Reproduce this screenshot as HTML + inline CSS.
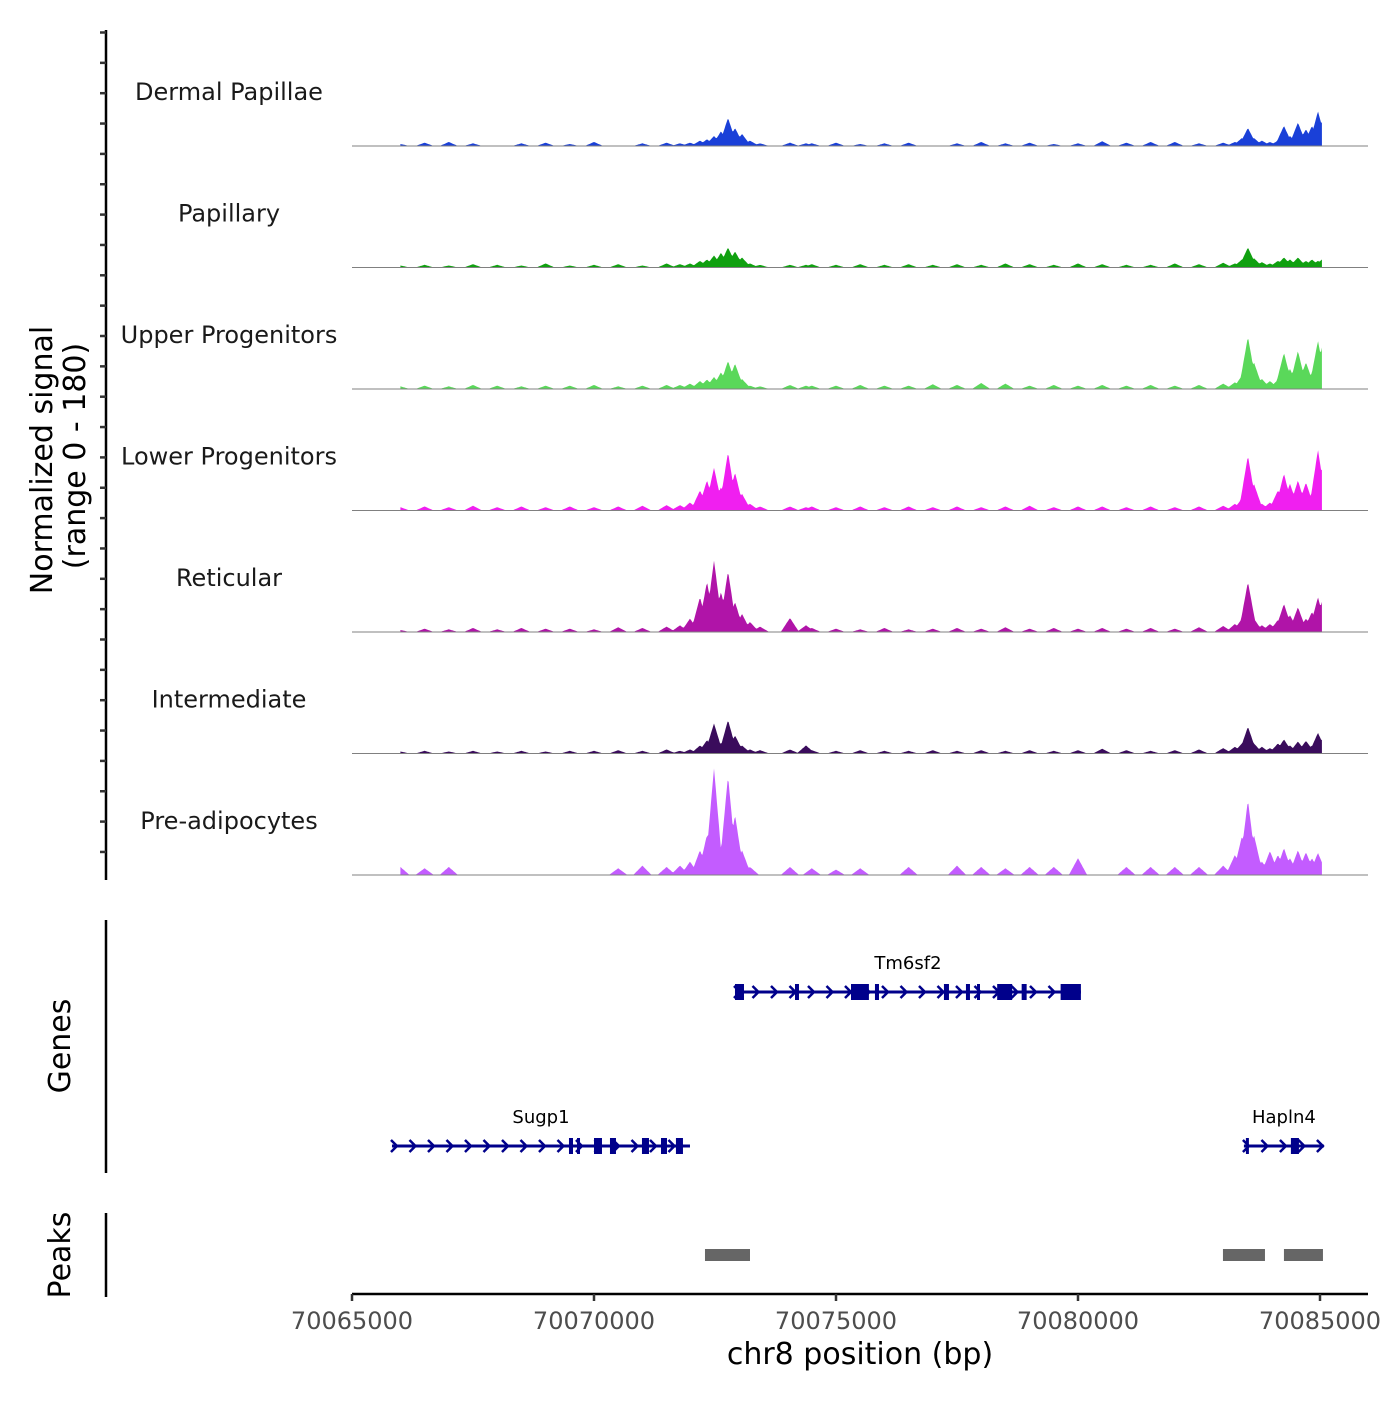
<!DOCTYPE html>
<html><head><meta charset="utf-8">
<style>
body{margin:0;background:#fff;}
svg text{font-family:"DejaVu Sans","Liberation Sans",sans-serif;}
</style></head>
<body>
<svg id="chart" width="1400" height="1400" viewBox="0 0 1400 1400" xmlns="http://www.w3.org/2000/svg">
<rect width="1400" height="1400" fill="#fff"/>
<g id="tracks"></g>
<g id="genes"></g>
<g id="peaks"></g>
<g id="axes"></g>
<text transform="translate(52,460) rotate(-90)" text-anchor="middle" font-size="30" fill="#000">Normalized signal</text>
<text transform="translate(85,456) rotate(-90)" text-anchor="middle" font-size="30" fill="#000">(range 0 - 180)</text>
<text transform="translate(70,1046) rotate(-90)" text-anchor="middle" font-size="30" fill="#000">Genes</text>
<text transform="translate(70,1255) rotate(-90)" text-anchor="middle" font-size="30" fill="#000">Peaks</text>
<text x="860" y="1364" text-anchor="middle" font-size="30" fill="#000">chr8 position (bp)</text>
</svg>
<script>
const NS = "http://www.w3.org/2000/svg";
// ---- data ----
const trackNames = ["Dermal Papillae","Papillary","Upper Progenitors","Lower Progenitors","Reticular","Intermediate","Pre-adipocytes"];
const trackColors = ["#1a40d8","#10a010","#5ad85a","#f01ff0","#b014a8","#3a0c5c","#c35cff"];
const noisePos = [66000,66500,67000,67500,68000,68500,69000,69500,70000,70500,71000,71500,74500,75000,75500,76000,76500,77000,77500,78000,78500,79000,79500,80000,80500,81000,81500,82000,82500,83000];
const noiseDermal = [3,5,6,4,0,4,5,3,6,0,4,5,4,5,3,4,5,0,4,6,4,5,3,4,7,5,6,6,4,5];
const noisePapillary = [3,4,3,5,4,3,6,3,4,5,3,6,5,4,5,4,5,4,5,4,6,5,4,6,5,4,4,6,5,7];
const noiseUpper = [4,5,4,6,5,4,5,5,6,4,5,6,5,5,6,5,5,7,6,9,8,5,6,5,6,5,6,5,6,8];
const noiseLower = [5,6,5,7,5,6,5,6,5,6,7,8,6,5,6,5,6,5,6,5,6,7,5,6,6,5,6,5,6,7];
const noiseReticular = [3,5,4,6,4,6,5,5,4,7,6,8,6,5,4,6,4,5,6,5,7,5,6,5,6,5,6,5,7,9];
const noiseIntermediate = [3,4,3,4,3,4,3,4,4,5,4,6,5,4,5,4,4,5,4,5,4,5,4,5,7,5,4,5,6,8];
const noisePreadipo = [12,10,12,0,0,0,0,0,0,10,14,12,10,8,10,0,12,0,14,12,10,12,12,25,0,12,12,12,12,14];
const noiseArrays = [noiseDermal,noisePapillary,noiseUpper,noiseLower,noiseReticular,noiseIntermediate,noisePreadipo];
const peakPos = [71776,71983,72190,72334,72479,72624,72769,72913,73058,73223,73430,74049,74380,83243,83387,83511,83635,83800,83966,84131,84255,84379,84544,84710,84834,84958,85040];
const peakDermal = [4,5,8,10,15,22,42,27,18,8,4,5,4,6,12,27,12,8,6,8,30,15,35,25,30,52,35];
const peakPapillary = [5,6,10,12,18,22,30,24,15,6,4,4,4,6,12,30,14,8,6,10,15,12,15,10,12,10,12];
const peakUpper = [6,8,12,14,18,25,42,38,15,5,4,6,5,10,20,78,40,15,12,14,54,30,57,40,24,72,62];
const peakLower = [8,12,30,45,64,35,87,57,25,10,6,6,5,10,18,82,40,10,12,30,55,40,45,42,20,91,60];
const peakReticular = [10,20,52,75,107,60,91,45,27,15,8,21,10,12,20,75,20,10,12,18,42,25,37,20,30,52,45];
const peakIntermediate = [4,6,12,20,45,15,50,27,12,6,5,6,12,10,15,40,15,10,8,15,21,12,18,19,12,31,20];
const peakPreadipo = [14,20,37,60,160,30,148,90,37,12,0,12,0,30,58,112,60,20,36,30,40,25,37,34,25,33,18];
const peakArrays = [peakDermal,peakPapillary,peakUpper,peakLower,peakReticular,peakIntermediate,peakPreadipo];

const geneNames = ["Tm6sf2","Sugp1","Hapln4"];
const geneStarts = [72913,65826,83428];
const geneEnds = [80061,71983,85081];
const geneRows = [0,1,1];
const geneExons = [
  [[72913,73099],[74153,74235],[75310,75680],[75805,75888],[77230,77334],[77685,77768],[77913,77955],[78330,78640],[78836,78939],[79641,80060]],
  [[69483,69566],[69649,69690],[70000,70165],[70330,70454],[70991,71136],[71384,71508],[71693,71838]],
  [[83469,83511],[84399,84565]]
];
const peakStarts = [72293,82995,84255];
const peakEnds = [73223,83863,85061];
const xTicks = [70065000,70070000,70075000,70080000,70085000];

// ---- scales ----
const OFF = 70000000;
const X0 = 352, X1 = 1320, D0 = 65000, D1 = 85000;
const xs = bp => X0 + (bp - D0) * (X1 - X0) / (D1 - D0);
const xsFull = bp => xs(bp - OFF);
const trackH = 121.5, firstBase = 146, maxVal = 180, sigEnd = 85040;
const ys = (v, base) => base - v * (trackH - 1) / maxVal;

function mk(tag, attrs, parent){ const e=document.createElementNS(NS,tag); for(const k in attrs) e.setAttribute(k,attrs[k]); parent.appendChild(e); return e; }

const tg = document.getElementById('tracks');
trackNames.forEach((name, t) => {
  const base = firstBase + t * trackH;
  const g = mk('g', {}, tg);
  
  
  const pts = [];
  const nz = noiseArrays[t], pk = peakArrays[t];
  for (let b = 66000; b <= sigEnd; b += 20) {
    let v = 0;
    noisePos.forEach((p,i)=>{ const w=190; const d=Math.abs(b-p); if(d<w) v=Math.max(v, nz[i]*(1-d/w)); });
    peakPos.forEach((p,i)=>{ const w=190; const d=Math.abs(b-p); if(d<w) v=Math.max(v, pk[i]*(1-d/w)); });
    pts.push([xs(b), ys(v, base)]);
  }
  let d = 'M' + xs(66000) + ',' + base;
  pts.forEach(p => d += ' L' + p[0].toFixed(1) + ',' + p[1].toFixed(1));
  d += ' L' + xs(sigEnd) + ',' + base + ' Z';
  const area = mk('path', {d:d, fill:trackColors[t], stroke:'none'}, g);
  
  
  const bl = mk('line', {x1:352, x2:1368, y1:base, y2:base, stroke:'#808080', 'stroke-width':1}, g);
  
  
  const lab = mk('text', {x:229, y:base-46, 'text-anchor':'middle', 'font-size':24, fill:'#1a1a1a'}, g);
  lab.textContent = name;
  
  
});

// genes
const gg = document.getElementById('genes');
const rowY = [992, 1146];
geneNames.forEach((name, i) => {
  const y = rowY[geneRows[i]];
  const g = mk('g', {}, gg);
  
  
  const x1 = xs(geneStarts[i]), x2 = xs(geneEnds[i]);
  mk('line', {x1:x1, x2:x2, y1:y, y2:y, stroke:'#00008b', 'stroke-width':3}, g);
  for (let x = x1 + 2; x < x2 - 4; x += 18.5) {
    mk('path', {d:`M${x-3},${y-6} L${x+3},${y} L${x-3},${y+6}`, fill:'none', stroke:'#00008b', 'stroke-width':2.5}, g);
  }
  geneExons[i].forEach(e => {
    const a = xs(e[0]), b = xs(e[1]);
    mk('rect', {x:a, y:y-8, width:Math.max(3,b-a), height:16, fill:'#00008b'}, g);
  });
  const t = mk('text', {x:(x1+x2)/2, y:y-23, 'text-anchor':'middle', 'font-size':18, fill:'#000'}, g);
  t.textContent = name;
  
  
});

// peaks
const pg = document.getElementById('peaks');
peakStarts.forEach((s, i) => {
  const r = mk('rect', {x:xs(s), y:1249, width:xs(peakEnds[i])-xs(s), height:12, fill:'#666666'}, pg);
  
  
});

// axes
const ag = document.getElementById('axes');
const yl = mk('line', {x1:106, x2:106, y1:30, y2:880, stroke:'#000', 'stroke-width':2.5}, ag);


for (let y = 32.5; y <= 880; y += 30.35) mk('line', {x1:100, x2:106, y1:y, y2:y, stroke:'#333', 'stroke-width':2.5}, ag);
const gl = mk('line', {x1:106, x2:106, y1:920, y2:1173, stroke:'#000', 'stroke-width':2.5}, ag);


const pl = mk('line', {x1:106, x2:106, y1:1213, y2:1297, stroke:'#000', 'stroke-width':2.5}, ag);


const xl = mk('line', {x1:352, x2:1368, y1:1294, y2:1294, stroke:'#000', 'stroke-width':2.5}, ag);


xTicks.forEach(v => {
  const x = xsFull(v);
  mk('line', {x1:x, x2:x, y1:1294, y2:1301, stroke:'#333', 'stroke-width':2.5}, ag);
  const t = mk('text', {x:x, y:1329, 'text-anchor':'middle', 'font-size':24, fill:'#4d4d4d'}, ag);
  t.textContent = v;
  
  
});
</script>
</body></html>
